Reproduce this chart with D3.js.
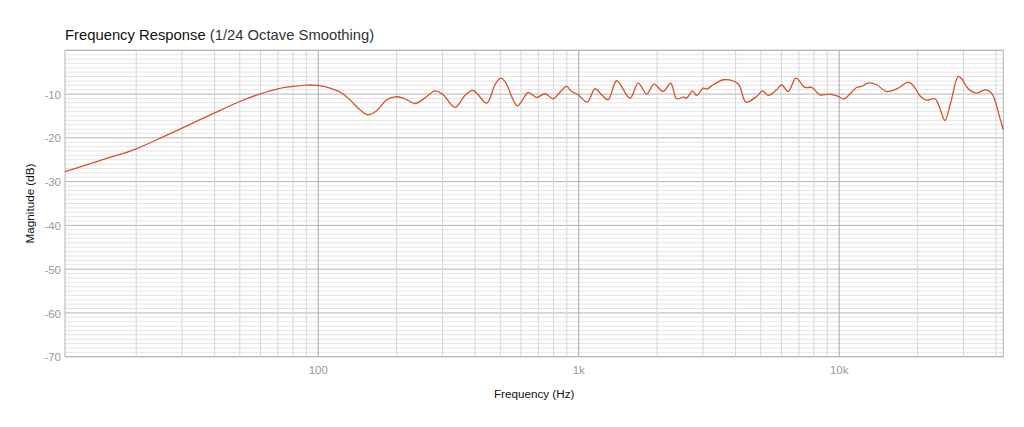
<!DOCTYPE html>
<html>
<head>
<meta charset="utf-8">
<script src="https://cdn.jsdelivr.net/npm/d3@7"></script>
<style>
  body { margin: 0; background: #fff; }
  svg { font-family: "Helvetica Neue", Helvetica, "Liberation Sans", Arial, sans-serif; }
</style>
</head>
<body>
<svg id="chart" width="1024" height="427"></svg>
<script>
let freq_hz = [
  10.66, 14.5, 20, 26.2, 30, 40, 50, 60, 70, 80, 90, 100, 110.9, 121.1, 132.3,
  144.6, 155.6, 167.6, 183.1, 197, 212.1, 235.1, 256.8, 280.5, 301.8, 334.8,
  365.8, 393.6, 443.1, 476.9, 501.5, 521, 536.3, 552.6, 580.6, 603.6, 640,
  689, 741.9, 798.3, 841.8, 898.6, 938.9, 995.6, 1078, 1154, 1224, 1298, 1398,
  1573, 1692, 1823, 1944, 2110, 2253, 2376, 2519, 2596, 2736, 2835, 3006,
  3097, 3284, 3609, 4096, 4384, 4818, 5080, 5339, 5749, 6010, 6372, 6821,
  7385, 7834, 8431, 9211, 9912, 10424, 10827, 11661, 12190, 12925, 13917,
  15205, 16851, 18404, 19236, 20408, 21520, 23307, 24211, 25461, 26845,
  28632, 29508, 31277, 33694, 36253, 38459, 41396, 42627
];
let magnitude_db = [
  -27.7, -25.2, -22.5, -19.4, -17.8, -14.3, -11.7, -9.93, -8.8, -8.26, -7.94, -8.03, -8.63, -9.54, -11.3,
  -13.59, -14.73, -13.82, -11.3, -10.62, -10.91, -12.15, -10.91, -9.25, -10.16, -13.06,
  -10.32, -9.18, -12.06, -7.87, -6.34, -7.12, -8.63, -10.55, -12.68, -11.69, -9.63,
  -10.78, -9.93, -11.07, -9.77, -8.26, -9.41, -10.16, -11.83, -8.79, -10.16, -11.3, -6.96,
  -10.91, -7.48, -10.0, -7.71, -9.41, -7.48, -11.07, -10.69, -10.91, -9.25, -10.32, -8.63,
  -8.86, -7.87, -6.73, -7.71, -11.83, -10.55, -9.25, -10.32, -9.02, -7.87, -9.41, -6.34,
  -8.49, -8.49, -10.16, -10.0, -10.55, -11.14, -10.39, -8.49, -8.26, -7.48, -7.87,
  -9.41, -8.63, -7.26, -8.03, -10.39, -11.37, -11.07, -12.84, -16.04, -11.69,
  -5.98, -6.5, -8.79, -9.77, -9.02, -9.77, -15.49, -18.16
];

let x_domain = [10.66, 42650];
let y_domain = [-70, 0];
let y_ticks = [-70, -60, -50, -40, -30, -20, -10];
let x_ticks = [100, 1000, 10000];
let x_tick_labels = ["100", "1k", "10k"];

let plot_left = 65;
let plot_right = 1003.3;
let plot_top = 50.3;
let plot_bottom = 356.7;

let svg = d3.select("#chart");

let x_scale = d3.scaleLog()
  .domain(x_domain)
  .range([plot_left, plot_right]);
let y_scale = d3.scaleLinear()
  .domain(y_domain)
  .range([plot_bottom, plot_top]);

let grid = svg.append("g").attr("class", "grid");

// 1 dB minor lines, 10 dB major lines
let db_lines = d3.range(y_domain[0], y_domain[1] + 1, 1);
grid.selectAll("line.h")
  .data(db_lines)
  .enter().append("line")
    .attr("class", "h")
    .attr("x1", plot_left)
    .attr("x2", plot_right)
    .attr("y1", (d) => y_scale(d))
    .attr("y2", (d) => y_scale(d))
    .attr("stroke", (d) => (d % 10 == 0) ? "#b4b4b4" : "#e4e4e4")
    .attr("stroke-width", 1);

// 2..9 per decade, decades darker
let freq_lines = [];
for (let dec = 10; dec <= 10000; dec *= 10) {
  for (let m = 1; m <= 9; m++) {
    let f = dec * m;
    if (f >= x_domain[0] && f <= x_domain[1]) freq_lines.push(f);
  }
}
grid.selectAll("line.v")
  .data(freq_lines)
  .enter().append("line")
    .attr("class", "v")
    .attr("x1", (d) => x_scale(d))
    .attr("x2", (d) => x_scale(d))
    .attr("y1", plot_top)
    .attr("y2", plot_bottom)
    .attr("stroke", (d) => x_ticks.includes(d) ? "#a8a8a8" : "#d6d6d6")
    .attr("stroke-width", 1);

svg.append("rect")
  .attr("x", plot_left)
  .attr("y", plot_top)
  .attr("width", plot_right - plot_left)
  .attr("height", plot_bottom - plot_top)
  .attr("fill", "none")
  .attr("stroke", "#b4b4b4");

// tick labels
svg.append("g")
  .selectAll("text")
  .data(y_ticks)
  .enter().append("text")
    .attr("x", plot_left - 4)
    .attr("y", (d) => y_scale(d))
    .attr("dy", "0.4em")
    .attr("text-anchor", "end")
    .attr("fill", "#999")
    .style("font-size", "11.5px")
    .text((d) => d);

svg.append("g")
  .selectAll("text")
  .data(x_ticks)
  .enter().append("text")
    .attr("x", (d) => x_scale(d))
    .attr("y", plot_bottom + 17)
    .attr("text-anchor", "middle")
    .attr("fill", "#999")
    .style("font-size", "11.5px")
    .text((d, i) => x_tick_labels[i]);

// response curve
let line = d3.line()
  .x((d, i) => x_scale(freq_hz[i]))
  .y((d) => y_scale(d))
  .curve(d3.curveCatmullRom.alpha(0.5));

svg.append("path")
  .datum(magnitude_db)
  .attr("d", line)
  .attr("fill", "none")
  .attr("stroke", "#d6512b")
  .attr("stroke-width", 1.3);

// titles
let title = svg.append("text")
  .attr("x", plot_left)
  .attr("y", 40)
  .attr("fill", "#111")
  .style("font-size", "14.8px");
title.append("tspan").text("Frequency Response ");
title.append("tspan").attr("fill", "#333").text("(1/24 Octave Smoothing)");

svg.append("text")
  .attr("x", (plot_left + plot_right) / 2)
  .attr("y", 398)
  .attr("text-anchor", "middle")
  .attr("fill", "#111")
  .style("font-size", "11.7px")
  .text("Frequency (Hz)");

svg.append("text")
  .attr("transform", "translate(34," + ((plot_top + plot_bottom) / 2) + ") rotate(-90)")
  .attr("text-anchor", "middle")
  .attr("fill", "#111")
  .style("font-size", "11.7px")
  .text("Magnitude (dB)");
</script>
</body>
</html>
